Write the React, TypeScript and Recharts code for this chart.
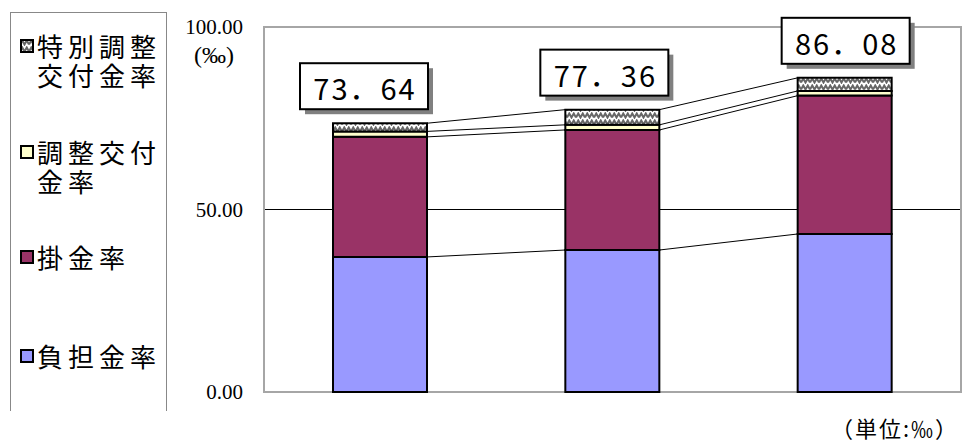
import React from 'react';
import { BarChart, Bar, XAxis, YAxis, CartesianGrid, ReferenceLine, ReferenceArea, LabelList } from 'recharts';

const categories = ['1', '2', '3'];
const futanKinritsu = [37.0, 38.9, 43.3];
const kakeKinritsu = [32.9, 32.9, 37.9];
const chouseiKoufu = [1.5, 1.4, 1.3];
const tokubetsuChousei = [2.24, 4.16, 3.58];
const totals = [73.64, 77.36, 86.08];
const yTicks = [0, 50, 100];

const seriesKeys = ['futan', 'kake', 'chousei', 'tokubetsu'];
const seriesNames = ['負担金率', '掛金率', '調整交付金率', '特別調整交付金率'];
const legendLines = [['特別調整', '交付金率'], ['調整交付', '金率'], ['掛金率'], ['負担金率']];

const COLORS = ['#9999FF', '#993366', '#FFFFCC', 'url(#zigzag)'];
const LABEL_DX = [-16, -8, 1];
const BAR_SIZE = 94;
const JP = '"Noto Sans CJK JP", "Noto Sans", sans-serif';
const SERIF = '"Liberation Serif", "DejaVu Serif", serif';

const data = categories.map((c, i) => ({
  name: c,
  futan: futanKinritsu[i],
  kake: kakeKinritsu[i],
  chousei: chouseiKoufu[i],
  tokubetsu: tokubetsuChousei[i],
  total: totals[i],
}));

const cumulative = [
  futanKinritsu,
  futanKinritsu.map((v, i) => v + kakeKinritsu[i]),
  futanKinritsu.map((v, i) => v + kakeKinritsu[i] + chouseiKoufu[i]),
  totals,
];

const SeriesLineShape = (props: any) => (
  <line
    x1={props.x1 + BAR_SIZE / 2}
    y1={props.y1}
    x2={props.x2 - BAR_SIZE / 2}
    y2={props.y2}
    stroke="#000"
    strokeWidth={1}
  />
);

const TotalLabel = (props: any) => {
  const { x, y, width, value, index } = props;
  const bw = 128;
  const bh = 46;
  const cx = x + width / 2 + LABEL_DX[index];
  const bottom = y - 14;
  const left = cx - bw / 2;
  const top = bottom - bh;
  const text = Number(value).toFixed(2).replace('.', '．');
  return (
    <g>
      <rect x={left + 5} y={top + 5} width={bw} height={bh} fill="#808080" />
      <rect x={left} y={top} width={bw} height={bh} fill="#fff" stroke="#000" strokeWidth={2} />
      <text
        x={cx + 1}
        y={top + bh / 2 + 1}
        textAnchor="middle"
        dominantBaseline="central"
        fontFamily={JP}
        fontSize={29}
        letterSpacing={2}
        fill="#000"
      >
        {text}
      </text>
    </g>
  );
};

const Swatch = ({ i }: { i: number }) => (
  <svg width={14} height={14} style={{ display: 'block' }}>
    <rect x={1} y={1} width={12} height={12} fill={COLORS[i]} stroke="#000" strokeWidth={2} />
  </svg>
);

export default function App() {
  const legendOrder = [3, 2, 1, 0];
  const legendTops = [31, 137, 242, 341];
  return (
    <div style={{ position: 'absolute', left: 0, top: 0, width: 966, height: 443, background: '#fff', overflow: 'hidden' }}>
      <svg width={0} height={0} style={{ position: 'absolute' }}>
        <defs>
          <pattern id="zigzag" patternUnits="userSpaceOnUse" width={9} height={7}>
            <rect width={9} height={7} fill="#fff" />
            <path d="M0,5.5 L2.25,1.5 L4.5,5.5 L6.75,1.5 L9,5.5" fill="none" stroke="#666" strokeWidth={2} />
          </pattern>
        </defs>
      </svg>

      <div
        style={{
          position: 'absolute',
          left: 10,
          top: 12,
          width: 155,
          height: 398,
          borderLeft: '1.5px solid #888',
          borderRight: '1.5px solid #888',
          borderTop: '1.5px solid #888',
        }}
      />
      {legendOrder.map((si, k) => (
        <div
          key={si}
          style={{
            position: 'absolute',
            left: 20,
            top: legendTops[k],
            display: 'flex',
            alignItems: 'flex-start',
            fontFamily: JP,
            fontSize: 26,
            letterSpacing: 5,
            lineHeight: '29px',
            color: '#000',
          }}
        >
          <div style={{ marginTop: 8, marginRight: 3 }}>
            <Swatch i={si} />
          </div>
          <div>
            {legendLines[k].map((l) => (
              <div key={l}>{l}</div>
            ))}
          </div>
        </div>
      ))}

      <div
        style={{
          position: 'absolute',
          left: 186,
          top: 41,
          width: 56,
          textAlign: 'center',
          fontFamily: SERIF,
          fontSize: 24,
          lineHeight: '28px',
          color: '#000',
        }}
      >
        (‰)
      </div>

      <div
        style={{
          position: 'absolute',
          right: 7,
          top: 413,
          fontFamily: JP,
          fontSize: 22,
          lineHeight: '28px',
          letterSpacing: 2,
          color: '#000',
        }}
      >
        （単位:‰）
      </div>

      <div style={{ position: 'absolute', left: 0, top: 0 }}>
        <BarChart
          width={966}
          height={443}
          data={data}
          margin={{ top: 27, right: 5, bottom: 51, left: 204 }}
          barSize={BAR_SIZE}
        >
          <CartesianGrid vertical={false} horizontalValues={[50]} stroke="#000" strokeWidth={1} />
          <XAxis dataKey="name" hide />
          <YAxis
            width={60}
            domain={[0, 100]}
            ticks={yTicks}
            tickFormatter={(v: number) => v.toFixed(2)}
            axisLine={false}
            tickLine={false}
            tickSize={0}
            tickMargin={21}
            tick={{ fontFamily: SERIF, fontSize: 21, fill: '#000' }}
            interval={0}
          />
          <ReferenceArea y1={0} y2={100} fill="none" stroke="#a6a6a6" strokeWidth={2} ifOverflow="visible" />
          {seriesKeys.map((k, i) => (
            <Bar
              key={k}
              dataKey={k}
              name={seriesNames[i]}
              stackId="a"
              fill={COLORS[i]}
              stroke="#000"
              strokeWidth={2}
              isAnimationActive={false}
            >
              {i === seriesKeys.length - 1 && (
                <LabelList dataKey="total" content={TotalLabel} />
              )}
            </Bar>
          ))}
          {cumulative.map((level, l) =>
            categories.slice(0, -1).map((c, i) => (
              <ReferenceLine
                key={`sl-${l}-${i}`}
                segment={[
                  { x: c, y: level[i] },
                  { x: categories[i + 1], y: level[i + 1] },
                ]}
                shape={SeriesLineShape}
                ifOverflow="visible"
              />
            ))
          )}
        </BarChart>
      </div>
    </div>
  );
}
